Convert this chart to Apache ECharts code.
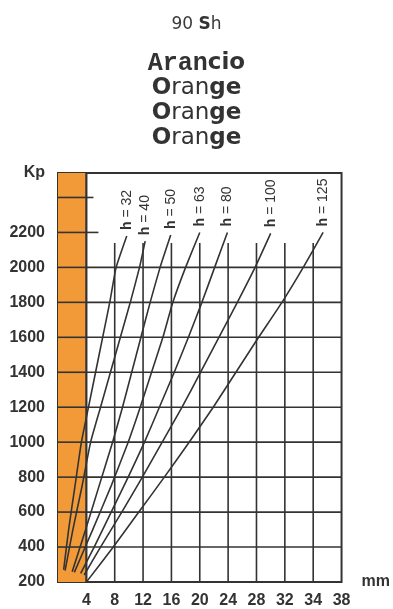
<!DOCTYPE html>
<html>
<head>
<meta charset="utf-8">
<script src="https://cdn.jsdelivr.net/npm/echarts@6/dist/echarts.min.js"></script>
<style>
  html, body { margin: 0; padding: 0; background: #fff; }
  #chart { width: 393px; height: 609px; }
</style>
</head>
<body>
<div id="chart"></div>
<script>
// Load (Kp) versus deflection (mm) for 90 Sh orange elastomer springs, by spring height h.
const springHeights = [32, 40, 50, 63, 80, 100, 125];

// [deflection mm, load Kp] for each spring height
const curveH32  = [[0.8, 270], [1.5, 500], [2.4, 750], [3.3, 1000], [4.3, 1200], [5.3, 1400], [6.3, 1600], [7.3, 1800], [8.2, 2000], [9.7, 2180]];
const curveH40  = [[1.0, 265], [2.1, 500], [3.4, 750], [4.6, 1000], [6.0, 1200], [7.4, 1400], [8.8, 1600], [10.2, 1800], [11.5, 2000], [12.3, 2150]];
const curveH50  = [[2.0, 258], [3.9, 500], [5.8, 750], [7.7, 1000], [9.1, 1200], [10.4, 1400], [11.7, 1600], [13.0, 1800], [14.4, 2000], [15.9, 2185]];
const curveH63  = [[2.3, 255], [4.9, 500], [7.5, 750], [9.9, 1000], [11.6, 1200], [13.2, 1400], [14.8, 1600], [16.2, 1800], [18.0, 2000], [20.0, 2200]];
const curveH80  = [[3.2, 250], [5.1, 400], [7.5, 600], [9.9, 800], [12.2, 1000], [14.3, 1200], [16.4, 1400], [18.4, 1600], [20.3, 1800], [22.1, 2000], [23.9, 2200]];
const curveH100 = [[3.7, 240], [6.0, 400], [9.0, 600], [11.9, 800], [14.7, 1000], [17.5, 1200], [20.1, 1400], [22.7, 1600], [25.3, 1800], [27.8, 2000], [30.0, 2195]];
const curveH125 = [[4.1, 205], [7.8, 400], [11.4, 600], [15.0, 800], [18.5, 1000], [21.9, 1200], [25.1, 1400], [28.3, 1600], [31.6, 1800], [34.6, 2000], [37.4, 2200]];
const curves = [curveH32, curveH40, curveH50, curveH63, curveH80, curveH100, curveH125];

// Axis ticks and their printed labels
const xTickValues = [4, 8, 12, 16, 20, 24, 28, 32, 36, 40];
const xTickLabels = ['4', '8', '12', '16', '20', '24', '28', '32', '34', '38'];
const yTickLabels = [200, 400, 600, 800, 1000, 1200, 1400, 1600, 1800, 2000, 2200];

// Ruled grid of the diagram
const hRules = [400, 600, 800, 1000, 1200, 1400, 1600, 1800, 2000];
const vRules = [8, 12, 16, 20, 24, 28, 32, 36];
const X_MIN = 0, X_MAX = 40, Y_MIN = 200, Y_MAX = 2540;
const V_RULE_TOP = 2140;
const ZONE_EDGE = 4;               // shaded zone 0–4 mm
const sideTicks = [[2200, 5.7], [2400, 5.0]];

const INK = '#333333';
const ORANGE = '#F29A38';
const FONT = 'Liberation Sans, Arial, sans-serif';

// rules across the white part of the diagram, each its own two-point line series
const ruleSegments = [];
hRules.forEach(v => ruleSegments.push({ pts: [[ZONE_EDGE, v], [X_MAX, v]], w: 1.6 }));
vRules.forEach(v => ruleSegments.push({ pts: [[v, Y_MIN], [v, V_RULE_TOP]], w: 1.6 }));
sideTicks.forEach(t => ruleSegments.push({ pts: [[ZONE_EDGE, t[0]], [t[1], t[0]]], w: 1.6 }));

const ruleSeries = ruleSegments.map(seg => ({
  type: 'line',
  silent: true,
  showSymbol: false,
  symbol: 'none',
  clip: false,
  z: 10,
  lineStyle: { color: INK, width: seg.w },
  data: seg.pts
}));

// levels ruled across the shaded zone
const zoneRuleLevels = hRules.concat(sideTicks.map(t => t[0]));

const curveSeries = curves.map((pts, i) => ({
  type: 'line',
  name: 'h = ' + springHeights[i],
  smooth: 0.15,
  showSymbol: true,
  symbol: 'circle',
  symbolSize: 0,
  z: 20,
  lineStyle: { color: INK, width: 1.6 },
  itemStyle: { color: INK },
  data: pts.map((p, k) => k === pts.length - 1 ? {
    value: p,
    label: {
      show: true,
      position: 'top',
      distance: 6,
      rotate: 90,
      align: 'left',
      verticalAlign: 'middle',
      formatter: '{hb|h} = ' + springHeights[i],
      fontFamily: FONT,
      fontSize: 14,
      color: INK,
      rich: { hb: { fontWeight: 'bold', fontSize: 14, fontFamily: FONT, color: INK } }
    }
  } : { value: p })
}));

const chart = echarts.init(document.getElementById('chart'), null, { renderer: 'canvas' });
chart.setOption({
  animation: false,
  backgroundColor: '#ffffff',
  title: [
    {
      left: 'center', top: 11,
      text: '90 {b|S}h',
      textStyle: {
        fontFamily: 'DejaVu Sans', fontSize: 17, fontWeight: 'normal', color: '#3a3a3a',
        rich: { b: { fontFamily: 'DejaVu Sans', fontSize: 17, fontWeight: 'bold', color: INK } }
      }
    },
    {
      left: 'center', top: 46,
      text: '{m|Aran}{b|cio}\n{b|O}{r|ran}{b|ge}\n{b|O}{r|ran}{b|ge}\n{b|O}{r|ran}{b|ge}',
      textStyle: {
        lineHeight: 25,
        rich: {
          m: { fontFamily: 'Liberation Mono', fontSize: 25, color: INK, lineHeight: 25 },
          b: { fontFamily: 'DejaVu Sans', fontWeight: 'bold', fontSize: 23, color: INK, lineHeight: 25 },
          r: { fontFamily: 'DejaVu Sans', fontWeight: 'normal', fontSize: 23, color: INK, lineHeight: 25 }
        }
      }
    }
  ],
  grid: {
    left: 58, right: 50, top: 173, bottom: 27,
    show: true, borderColor: INK, borderWidth: 2, backgroundColor: '#ffffff'
  },
  xAxis: {
    type: 'value', min: X_MIN, max: X_MAX, interval: 4,
    name: 'mm', nameLocation: 'end', nameGap: 20,
    nameTextStyle: { fontFamily: FONT, fontSize: 16, fontWeight: 'bold', color: INK, verticalAlign: 'middle', padding: [40, 0, 0, 0] },
    axisLine: { show: false }, axisTick: { show: false }, splitLine: { show: false },
    axisLabel: {
      margin: 11, fontFamily: FONT, fontSize: 16, fontWeight: 'bold', color: INK,
      showMinLabel: false,
      formatter: v => { const i = xTickValues.indexOf(v); return i >= 0 ? xTickLabels[i] : ''; }
    }
  },
  yAxis: {
    type: 'value', min: Y_MIN, max: Y_MAX, interval: 200,
    name: 'Kp', nameLocation: 'end', nameGap: 0,
    nameTextStyle: { fontFamily: FONT, fontSize: 16, fontWeight: 'bold', color: INK, align: 'right', verticalAlign: 'middle', padding: [0, 13, 0, 0] },
    axisLine: { show: false }, axisTick: { show: false }, splitLine: { show: false },
    axisLabel: {
      margin: 13, fontFamily: FONT, fontSize: 16, fontWeight: 'bold', color: INK,
      showMaxLabel: false,
      formatter: v => yTickLabels.indexOf(v) >= 0 ? String(v) : ''
    }
  },
  series: [
    {
      // shaded 0–4 mm zone, with its own rules drawn over the fill
      type: 'custom', z: 5, silent: true,
      data: [[X_MIN, Y_MIN, ZONE_EDGE, Y_MAX]],
      renderItem: (params, api) => {
        const a = api.coord([api.value(0), api.value(1)]);
        const b = api.coord([api.value(2), api.value(3)]);
        const x0 = Math.min(a[0], b[0]), x1 = Math.max(a[0], b[0]);
        const children = [{
          type: 'rect',
          shape: { x: x0, y: Math.min(a[1], b[1]), width: x1 - x0, height: Math.abs(b[1] - a[1]) },
          style: { fill: ORANGE }
        }];
        zoneRuleLevels.forEach(level => {
          const y = api.coord([api.value(0), level])[1];
          children.push({
            type: 'rect',
            shape: { x: x0, y: y - 0.8, width: x1 - x0 + 0.5, height: 1.6 },
            style: { fill: INK }
          });
        });
        children.push({
          type: 'rect',
          shape: { x: x1 - 1.1, y: Math.min(a[1], b[1]), width: 2.2, height: Math.abs(b[1] - a[1]) },
          style: { fill: INK }
        });
        return { type: 'group', children: children };
      }
    }
  ].concat(ruleSeries, curveSeries)
});
</script>
</body>
</html>
